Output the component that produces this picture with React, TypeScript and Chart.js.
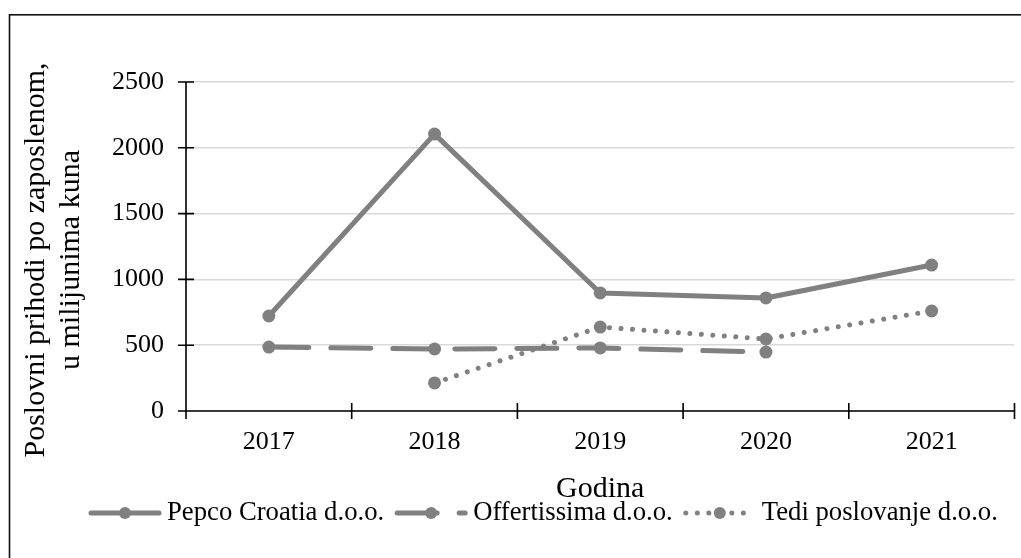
import React, { useEffect, useRef } from "react";
import { Chart, registerables } from "chart.js";

Chart.register(...registerables);

const years = ["2017", "2018", "2019", "2020", "2021"];
const pepco = [722, 2104, 897, 859, 1109];
const offertissima = [486, 471, 479, 448, null];
const tedi = [null, 213, 638, 547, 760];
const seriesNames = ["Pepco Croatia d.o.o.", "Offertissima d.o.o.", "Tedi poslovanje d.o.o."];
const yTitleLines = ["Poslovni prihodi po zaposlenom,", "u milijunima kuna"];
const xTitle = "Godina";

const GRAY = "#808080";
const FONT = "'Liberation Serif', 'Times New Roman', serif";

const dashes: number[][] = [[], [40, 22], [0.01, 11.5]];

const decorPlugin = {
  id: "decor",
  afterDraw(chart: any) {
    const ctx = chart.ctx;
    const { left, right, top, bottom } = chart.chartArea;
    ctx.save();
    // outer frame
    ctx.strokeStyle = "#111";
    ctx.lineWidth = 1.6;
    ctx.strokeRect(9.5, 14.8, 1200, 1000);
    // axes
    ctx.strokeStyle = "#000";
    ctx.lineWidth = 1.6;
    ctx.beginPath();
    ctx.moveTo(left, top);
    ctx.lineTo(left, bottom);
    ctx.moveTo(left, bottom);
    ctx.lineTo(right, bottom);
    // y ticks (cross)
    const ys = chart.scales.y;
    for (let v = 0; v <= 2500; v += 500) {
      const py = ys.getPixelForValue(v);
      ctx.moveTo(left - 8, py);
      ctx.lineTo(left + 8, py);
    }
    // x ticks at category boundaries
    const n = years.length;
    for (let i = 0; i <= n; i++) {
      const px = left + ((right - left) * i) / n;
      ctx.moveTo(px, bottom - 8);
      ctx.lineTo(px, bottom + 8);
    }
    ctx.stroke();

    // y title
    ctx.fillStyle = "#000";
    ctx.font = `30px ${FONT}`;
    ctx.textAlign = "center";
    ctx.textBaseline = "middle";
    const cy = 260;
    const xs = [36, 71];
    yTitleLines.forEach((t, i) => {
      ctx.save();
      ctx.translate(xs[i], cy);
      ctx.rotate(-Math.PI / 2);
      ctx.fillText(t, 0, 0);
      ctx.restore();
    });
    // x title
    ctx.textBaseline = "alphabetic";
    ctx.fillText(xTitle, (left + right) / 2, 497);

    // legend
    ctx.font = `26.7px ${FONT}`;
    ctx.textAlign = "left";
    ctx.textBaseline = "middle";
    const ly = 513;
    let x0 = 89;
    chart.data.datasets.forEach((ds: any, i: number) => {
      const sw = 72;
      ctx.save();
      ctx.strokeStyle = GRAY;
      ctx.lineWidth = 5;
      ctx.lineCap = "round";
      ctx.setLineDash(dashes[i]);
      ctx.beginPath();
      ctx.moveTo(x0 + 2, ly);
      ctx.lineTo(x0 + sw - 2, ly);
      ctx.stroke();
      ctx.setLineDash([]);
      ctx.fillStyle = GRAY;
      ctx.beginPath();
      ctx.arc(x0 + sw / 2, ly, 6, 0, Math.PI * 2);
      ctx.fill();
      ctx.restore();
      ctx.fillStyle = "#000";
      ctx.fillText(ds.label, x0 + sw + 6, ly);
      x0 = x0 + sw + 6 + ctx.measureText(ds.label).width + 11;
    });
    ctx.restore();
  },
};

export default function App() {
  const ref = useRef<HTMLCanvasElement>(null);
  useEffect(() => {
    if (!ref.current) return;
    const mk = (label: string, data: (number | null)[], i: number) => ({
      label,
      data,
      borderColor: GRAY,
      backgroundColor: GRAY,
      borderWidth: 5,
      borderDash: dashes[i],
      borderCapStyle: "round",
      borderJoinStyle: "round",
      pointRadius: 6.5,
      pointHoverRadius: 6.5,
      pointBorderWidth: 0,
      pointBackgroundColor: GRAY,
      tension: 0,
      spanGaps: false,
    });
    const chart = new Chart(ref.current, {
      type: "line",
      data: {
        labels: years,
        datasets: [
          mk(seriesNames[0], pepco, 0),
          mk(seriesNames[1], offertissima, 1),
          mk(seriesNames[2], tedi, 2),
        ] as any,
      },
      options: {
        animation: false,
        responsive: true,
        maintainAspectRatio: false,
        layout: { padding: { left: 0, right: 4, top: 82, bottom: 0 } },
        plugins: { legend: { display: false }, tooltip: { enabled: false } },
        scales: {
          x: {
            offset: true,
            grid: { display: false, drawTicks: false },
            border: { display: false },
            ticks: { color: "#000", font: { family: FONT, size: 26 }, padding: 16, maxRotation: 0 },
            afterFit: (s: any) => {
              s.height = 147;
            },
          },
          y: {
            min: 0,
            max: 2500,
            ticks: {
              stepSize: 500,
              color: "#000",
              font: { family: FONT, size: 26 },
              padding: 22,
              callback: (v: any) => String(v),
            },
            grid: { color: "#d9d9d9", lineWidth: 1.5, drawTicks: false },
            border: { display: false },
            afterFit: (s: any) => {
              s.width = 186;
            },
          },
        },
      },
      plugins: [decorPlugin],
    });
    return () => chart.destroy();
  }, []);
  return (
    <div style={{ position: "absolute", left: 0, top: 0, width: 1021, height: 558, background: "#fff" }}>
      <canvas ref={ref} />
    </div>
  );
}
